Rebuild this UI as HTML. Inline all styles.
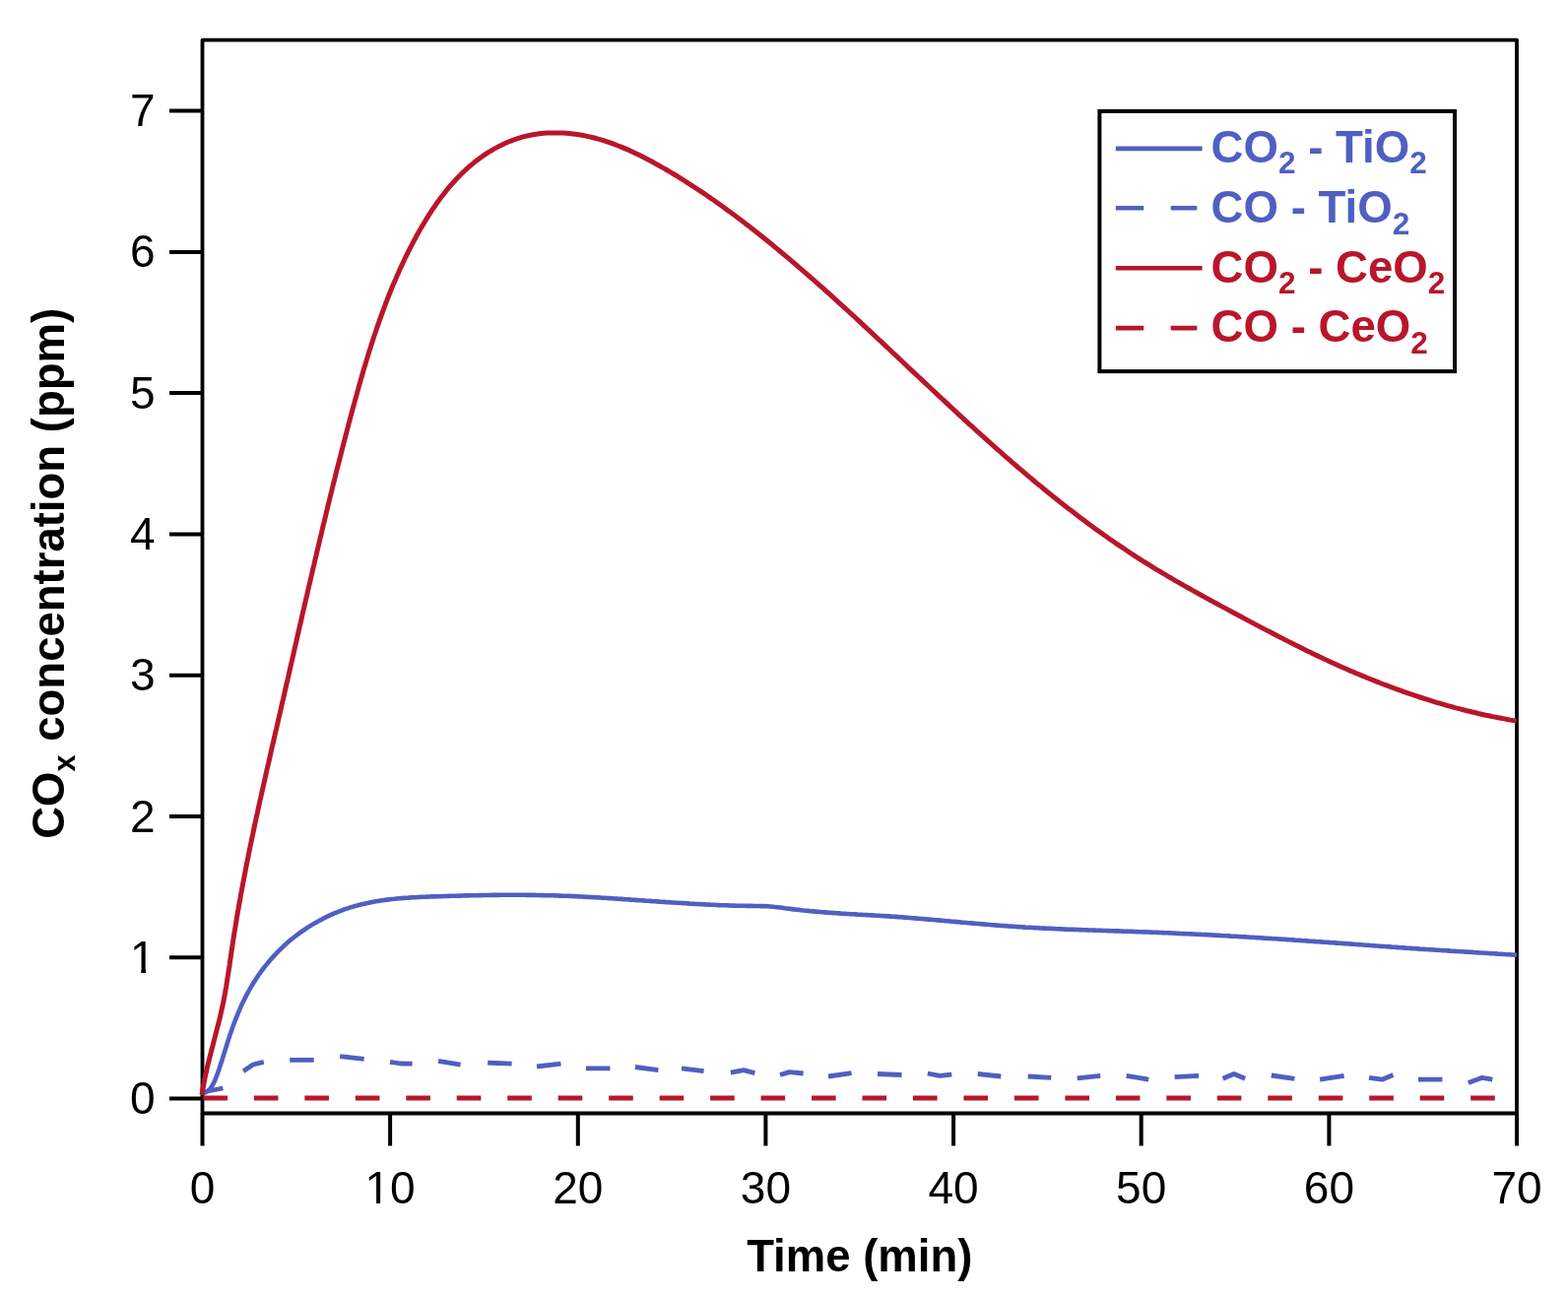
<!DOCTYPE html>
<html><head><meta charset="utf-8"><title>COx concentration</title>
<style>html,body{margin:0;padding:0;background:#fff;} svg{display:block;}</style></head>
<body><svg width="1592" height="1316" viewBox="0 0 1592 1316">
<rect width="1592" height="1316" fill="#fff"/>
<rect x="205.5" y="40.7" width="1334.5" height="1089.8" fill="none" stroke="#000" stroke-width="3.8" stroke-linejoin="round"/>
<path d="M172,1115.5 H205.5 M205.5,1130.5 V1163.5 M172,972.2 H205.5 M396.1,1130.5 V1163.5 M172,829.0 H205.5 M586.8,1130.5 V1163.5 M172,685.7 H205.5 M777.4,1130.5 V1163.5 M172,542.4 H205.5 M968.1,1130.5 V1163.5 M172,399.1 H205.5 M1158.7,1130.5 V1163.5 M172,255.9 H205.5 M1349.4,1130.5 V1163.5 M172,112.6 H205.5 M1540.0,1130.5 V1163.5" stroke="#000" stroke-width="4" fill="none"/>
<g font-family="&quot;Liberation Sans&quot;, Arial, sans-serif" font-size="46" fill="#000"><text x="157.5" y="1131.0" text-anchor="end">0</text><text x="157.5" y="987.7" text-anchor="end">1</text><text x="157.5" y="844.5" text-anchor="end">2</text><text x="157.5" y="701.2" text-anchor="end">3</text><text x="157.5" y="557.9" text-anchor="end">4</text><text x="157.5" y="414.6" text-anchor="end">5</text><text x="157.5" y="271.4" text-anchor="end">6</text><text x="157.5" y="128.1" text-anchor="end">7</text><text x="205.5" y="1222" text-anchor="middle">0</text><text x="396.1" y="1222" text-anchor="middle">10</text><text x="586.8" y="1222" text-anchor="middle">20</text><text x="777.4" y="1222" text-anchor="middle">30</text><text x="968.1" y="1222" text-anchor="middle">40</text><text x="1158.7" y="1222" text-anchor="middle">50</text><text x="1349.4" y="1222" text-anchor="middle">60</text><text x="1540.0" y="1222" text-anchor="middle">70</text></g>
<path d="M134,983.6 h9.3 v4.8 h-9.3 Z M148.1,983.6 h8.4 v4.8 h-8.4 Z M372.8,1217.6 h9.3 v4.8 h-9.3 Z M386.1,1217.6 h9 v4.8 h-9 Z" fill="#fff"/>
<text x="872.75" y="1291.2" text-anchor="middle" font-family="&quot;Liberation Sans&quot;, Arial, sans-serif" font-weight="bold" font-size="45.5">Time (min)</text>
<text transform="translate(65,851.8) rotate(-90)" x="0" y="0" font-family="&quot;Liberation Sans&quot;, Arial, sans-serif" font-weight="bold" font-size="45.5">CO<tspan font-size="30.5" dy="11">x</tspan><tspan dy="-11" dx="1.2"> concentration (ppm)</tspan></text>
<path d="M207.2,1110.0 L209.3,1108.9 L211.2,1107.6 L212.8,1106.1 L214.2,1104.4 L215.4,1102.5 L216.6,1100.6 L217.6,1098.5 L218.5,1096.3 L219.3,1094.1 L220.2,1091.9 L221.0,1089.7 L221.8,1087.4 L222.6,1085.2 L223.3,1082.9 L224.1,1080.6 L224.8,1078.3 L225.6,1076.0 L226.3,1073.7 L227.0,1071.4 L227.7,1069.1 L228.4,1066.8 L229.2,1064.5 L229.9,1062.1 L230.6,1059.8 L231.3,1057.5 L232.1,1055.2 L232.8,1052.9 L233.6,1050.6 L234.4,1048.3 L235.2,1046.0 L236.0,1043.7 L236.8,1041.4 L237.7,1039.2 L238.5,1036.9 L239.4,1034.7 L240.3,1032.4 L241.2,1030.2 L242.1,1027.9 L243.1,1025.7 L244.0,1023.5 L245.0,1021.3 L246.0,1019.1 L247.1,1016.9 L248.1,1014.8 L249.2,1012.6 L250.3,1010.5 L251.4,1008.4 L252.6,1006.3 L253.7,1004.2 L254.9,1002.1 L256.2,1000.1 L257.4,998.0 L258.7,996.0 L260.0,994.0 L261.3,992.0 L262.6,990.0 L264.0,988.1 L265.4,986.1 L266.8,984.2 L268.3,982.3 L269.8,980.4 L271.3,978.6 L272.8,976.7 L274.3,974.9 L275.9,973.1 L277.5,971.4 L279.1,969.6 L280.8,967.9 L282.4,966.1 L284.1,964.5 L285.8,962.8 L287.6,961.1 L289.3,959.5 L291.1,957.9 L292.9,956.3 L294.7,954.8 L296.6,953.3 L298.5,951.8 L300.4,950.3 L302.3,948.8 L304.2,947.4 L306.2,946.0 L308.2,944.6 L310.2,943.3 L312.2,941.9 L314.3,940.6 L316.3,939.4 L318.4,938.1 L320.5,936.9 L322.6,935.7 L324.7,934.6 L326.9,933.4 L329.0,932.3 L331.2,931.2 L333.4,930.2 L335.6,929.2 L337.8,928.2 L340.0,927.2 L342.3,926.3 L344.5,925.4 L346.8,924.6 L349.0,923.7 L351.3,922.9 L353.6,922.2 L355.9,921.4 L358.2,920.7 L360.5,920.1 L362.8,919.4 L365.1,918.8 L367.4,918.2 L369.7,917.7 L372.1,917.2 L374.4,916.7 L376.7,916.2 L379.1,915.8 L381.4,915.3 L383.8,914.9 L386.2,914.6 L388.5,914.2 L390.9,913.9 L393.3,913.6 L395.6,913.3 L398.0,913.0 L400.4,912.8 L402.8,912.5 L405.2,912.3 L407.6,912.1 L410.0,911.9 L412.4,911.7 L414.8,911.6 L417.2,911.4 L419.6,911.3 L422.0,911.2 L424.4,911.0 L426.8,910.9 L429.2,910.8 L431.6,910.7 L434.0,910.6 L436.4,910.5 L438.8,910.4 L441.2,910.4 L443.6,910.3 L446.1,910.2 L448.5,910.1 L450.9,910.0 L453.3,910.0 L455.7,909.9 L458.1,909.8 L460.5,909.8 L462.9,909.7 L465.3,909.6 L467.7,909.6 L470.1,909.5 L472.5,909.4 L475.0,909.4 L477.4,909.3 L479.8,909.3 L482.2,909.2 L484.6,909.2 L487.0,909.1 L489.4,909.1 L491.8,909.0 L494.2,909.0 L496.6,909.0 L499.0,908.9 L501.4,908.9 L503.8,908.9 L506.2,908.9 L508.6,908.8 L511.0,908.8 L513.4,908.8 L515.8,908.8 L518.2,908.8 L520.6,908.8 L523.0,908.8 L525.4,908.8 L527.9,908.8 L530.3,908.8 L532.7,908.8 L535.1,908.9 L537.5,908.9 L539.9,908.9 L542.3,908.9 L544.7,909.0 L547.1,909.0 L549.5,909.1 L551.9,909.1 L554.3,909.2 L556.7,909.2 L559.1,909.3 L561.5,909.3 L563.9,909.4 L566.3,909.5 L568.7,909.6 L571.1,909.7 L573.5,909.7 L575.9,909.8 L578.3,909.9 L580.7,910.0 L583.1,910.1 L585.5,910.3 L587.9,910.4 L590.3,910.5 L592.7,910.6 L595.1,910.7 L597.5,910.9 L599.9,911.0 L602.3,911.1 L604.7,911.3 L607.1,911.4 L609.5,911.5 L611.9,911.7 L614.3,911.8 L616.7,912.0 L619.1,912.1 L621.5,912.3 L623.9,912.5 L626.3,912.6 L628.7,912.8 L631.1,912.9 L633.5,913.1 L635.9,913.2 L638.3,913.4 L640.7,913.6 L643.1,913.7 L645.5,913.9 L647.9,914.1 L650.3,914.2 L652.7,914.4 L655.1,914.6 L657.5,914.7 L659.9,914.9 L662.3,915.1 L664.7,915.2 L667.1,915.4 L669.5,915.6 L671.9,915.7 L674.3,915.9 L676.7,916.1 L679.1,916.2 L681.5,916.4 L683.9,916.5 L686.3,916.7 L688.7,916.8 L691.1,917.0 L693.5,917.1 L695.9,917.3 L698.3,917.4 L700.7,917.6 L703.1,917.7 L705.5,917.9 L707.9,918.0 L710.3,918.1 L712.7,918.3 L715.1,918.4 L717.5,918.5 L719.9,918.6 L722.3,918.7 L724.7,918.8 L727.1,919.0 L729.5,919.1 L731.9,919.2 L734.3,919.2 L736.7,919.3 L739.1,919.4 L741.5,919.5 L743.9,919.6 L746.3,919.6 L748.7,919.7 L751.1,919.8 L753.5,919.8 L755.9,919.8 L758.3,919.9 L760.7,919.9 L763.1,919.9 L765.5,920.0 L767.9,920.0 L770.3,920.0 L772.7,920.1 L775.2,920.1 L777.6,920.2 L779.9,920.3 L782.3,920.5 L784.7,920.7 L787.1,921.0 L789.5,921.2 L791.9,921.5 L794.3,921.8 L796.7,922.2 L799.1,922.5 L801.4,922.8 L803.8,923.1 L806.2,923.4 L808.6,923.7 L811.0,923.9 L813.4,924.2 L815.8,924.5 L818.2,924.7 L820.6,924.9 L822.9,925.2 L825.3,925.4 L827.7,925.6 L830.1,925.8 L832.5,926.0 L834.9,926.2 L837.3,926.4 L839.7,926.6 L842.1,926.8 L844.5,926.9 L846.9,927.1 L849.3,927.3 L851.7,927.4 L854.1,927.6 L856.5,927.7 L858.9,927.9 L861.3,928.0 L863.7,928.2 L866.1,928.3 L868.5,928.4 L870.9,928.6 L873.3,928.7 L875.7,928.9 L878.1,929.0 L880.5,929.1 L882.9,929.3 L885.3,929.4 L887.7,929.5 L890.1,929.7 L892.5,929.8 L894.9,930.0 L897.3,930.1 L899.7,930.3 L902.1,930.4 L904.5,930.6 L906.9,930.8 L909.3,930.9 L911.7,931.1 L914.1,931.3 L916.5,931.4 L918.9,931.6 L921.3,931.8 L923.7,932.0 L926.1,932.2 L928.5,932.4 L930.9,932.6 L933.3,932.8 L935.7,933.0 L938.1,933.2 L940.4,933.4 L942.8,933.6 L945.2,933.8 L947.6,934.0 L950.0,934.2 L952.4,934.4 L954.8,934.6 L957.2,934.8 L959.6,935.1 L962.0,935.3 L964.4,935.5 L966.8,935.7 L969.2,935.9 L971.6,936.1 L974.0,936.3 L976.4,936.6 L978.8,936.8 L981.2,937.0 L983.6,937.2 L986.0,937.4 L988.4,937.6 L990.8,937.8 L993.2,938.0 L995.6,938.2 L998.0,938.4 L1000.4,938.6 L1002.8,938.8 L1005.1,939.0 L1007.5,939.2 L1009.9,939.4 L1012.3,939.6 L1014.7,939.8 L1017.1,940.0 L1019.5,940.1 L1021.9,940.3 L1024.3,940.5 L1026.7,940.6 L1029.1,940.8 L1031.5,941.0 L1033.9,941.1 L1036.3,941.3 L1038.7,941.4 L1041.1,941.6 L1043.5,941.7 L1045.9,941.8 L1048.3,942.0 L1050.7,942.1 L1053.1,942.2 L1055.5,942.4 L1057.9,942.5 L1060.3,942.6 L1062.7,942.7 L1065.1,942.8 L1067.5,942.9 L1069.9,943.0 L1072.3,943.2 L1074.7,943.3 L1077.1,943.4 L1079.5,943.5 L1081.9,943.6 L1084.3,943.7 L1086.7,943.7 L1089.1,943.8 L1091.5,943.9 L1093.9,944.0 L1096.3,944.1 L1098.7,944.2 L1101.2,944.3 L1103.6,944.4 L1106.0,944.5 L1108.4,944.5 L1110.8,944.6 L1113.2,944.7 L1115.6,944.8 L1118.0,944.9 L1120.4,945.0 L1122.8,945.0 L1125.2,945.1 L1127.6,945.2 L1130.0,945.3 L1132.4,945.4 L1134.8,945.4 L1137.2,945.5 L1139.6,945.6 L1142.0,945.7 L1144.4,945.8 L1146.8,945.8 L1149.2,945.9 L1151.6,946.0 L1154.0,946.1 L1156.4,946.2 L1158.8,946.3 L1161.2,946.4 L1163.6,946.4 L1166.0,946.5 L1168.4,946.6 L1170.8,946.7 L1173.2,946.8 L1175.6,946.9 L1178.0,947.0 L1180.4,947.1 L1182.8,947.2 L1185.2,947.3 L1187.6,947.4 L1190.0,947.5 L1192.4,947.6 L1194.8,947.7 L1197.2,947.9 L1199.6,948.0 L1202.0,948.1 L1204.4,948.2 L1206.8,948.3 L1209.2,948.4 L1211.6,948.5 L1214.0,948.7 L1216.4,948.8 L1218.8,948.9 L1221.2,949.0 L1223.6,949.1 L1226.0,949.3 L1228.4,949.4 L1230.8,949.5 L1233.2,949.6 L1235.6,949.8 L1238.0,949.9 L1240.4,950.0 L1242.8,950.2 L1245.2,950.3 L1247.6,950.4 L1250.0,950.6 L1252.4,950.7 L1254.8,950.8 L1257.2,951.0 L1259.6,951.1 L1261.9,951.3 L1264.3,951.4 L1266.7,951.5 L1269.1,951.7 L1271.5,951.8 L1273.9,952.0 L1276.3,952.1 L1278.7,952.3 L1281.1,952.4 L1283.5,952.6 L1285.9,952.7 L1288.3,952.9 L1290.7,953.0 L1293.1,953.2 L1295.5,953.3 L1297.9,953.5 L1300.3,953.6 L1302.7,953.8 L1305.1,953.9 L1307.5,954.1 L1309.9,954.3 L1312.3,954.4 L1314.7,954.6 L1317.1,954.7 L1319.5,954.9 L1321.9,955.1 L1324.3,955.2 L1326.7,955.4 L1329.1,955.6 L1331.4,955.7 L1333.8,955.9 L1336.2,956.1 L1338.6,956.2 L1341.0,956.4 L1343.4,956.6 L1345.8,956.7 L1348.2,956.9 L1350.6,957.1 L1353.0,957.2 L1355.4,957.4 L1357.8,957.6 L1360.2,957.8 L1362.6,957.9 L1365.0,958.1 L1367.4,958.3 L1369.8,958.4 L1372.2,958.6 L1374.6,958.8 L1377.0,959.0 L1379.4,959.1 L1381.8,959.3 L1384.2,959.5 L1386.6,959.7 L1389.0,959.8 L1391.3,960.0 L1393.7,960.2 L1396.1,960.4 L1398.5,960.5 L1400.9,960.7 L1403.3,960.9 L1405.7,961.0 L1408.1,961.2 L1410.5,961.4 L1412.9,961.6 L1415.3,961.7 L1417.7,961.9 L1420.1,962.1 L1422.5,962.2 L1424.9,962.4 L1427.3,962.6 L1429.7,962.7 L1432.1,962.9 L1434.5,963.1 L1436.9,963.2 L1439.3,963.4 L1441.7,963.6 L1444.1,963.7 L1446.5,963.9 L1448.9,964.0 L1451.3,964.2 L1453.6,964.3 L1456.0,964.5 L1458.4,964.7 L1460.8,964.8 L1463.2,965.0 L1465.6,965.1 L1468.0,965.3 L1470.4,965.4 L1472.8,965.6 L1475.2,965.7 L1477.6,965.9 L1480.0,966.0 L1482.4,966.2 L1484.8,966.3 L1487.2,966.5 L1489.6,966.6 L1492.0,966.8 L1494.4,966.9 L1496.8,967.1 L1499.2,967.2 L1501.6,967.4 L1504.0,967.5 L1506.4,967.7 L1508.8,967.8 L1511.2,968.0 L1513.6,968.1 L1516.0,968.3 L1518.4,968.4 L1520.8,968.6 L1523.2,968.7 L1525.6,968.9 L1528.0,969.0 L1530.4,969.2 L1532.8,969.3 L1535.2,969.5 L1537.6,969.6 L1540.0,969.8" stroke="#4F5FC2" stroke-width="4.6" fill="none" stroke-linejoin="round"/>
<path d="M206.0,1109.0 L226.4,1105.0 M247.1,1087.7 L257.0,1081.0 L267.8,1078.3 M294.2,1076.4 L318.7,1076.4 M345.1,1072.6 L369.6,1075.4 M396.0,1078.3 L407.0,1080.0 L418.6,1080.1 M445.0,1077.3 L467.6,1081.1 M495.1,1079.2 L519.6,1080.1 M545.0,1083.0 L569.5,1080.1 M594.9,1084.9 L619.4,1084.9 M644.9,1083.5 L668.4,1086.7 M692.0,1084.9 L714.6,1087.7 M741.9,1089.2 L755.0,1086.7 L766.4,1089.6 M792.0,1091.5 L801.5,1088.6 L815.6,1090.0 M841.0,1093.0 L864.6,1089.6 M891.0,1090.5 L915.5,1091.5 M941.8,1090.0 L954.0,1092.4 L966.3,1091.1 M992.7,1090.5 L1016.3,1093.0 M1043.7,1093.0 L1067.3,1094.3 M1093.7,1094.8 L1117.3,1092.4 M1143.6,1092.4 L1166.2,1096.2 M1192.6,1093.7 L1217.1,1092.4 M1241.6,1095.2 L1252.9,1090.5 L1264.2,1095.2 M1290.8,1092.0 L1314.4,1095.4 M1340.1,1096.2 L1364.6,1092.4 M1390.0,1094.3 L1403.2,1096.2 L1414.5,1091.5 M1440.0,1096.2 L1464.4,1096.2 M1490.8,1099.4 L1505.0,1094.3 L1515.3,1096.2" stroke="#4F5FC2" stroke-width="4.8" fill="none" stroke-linejoin="round"/>
<path d="M205.0,1111.9 L205.5,1108.7 L206.0,1105.5 L206.6,1102.4 L207.2,1099.2 L207.8,1096.1 L208.4,1092.9 L209.1,1089.8 L209.8,1086.7 L210.5,1083.5 L211.2,1080.4 L212.0,1077.3 L212.8,1074.2 L213.6,1071.0 L214.4,1067.9 L215.2,1064.8 L216.0,1061.7 L216.8,1058.6 L217.6,1055.5 L218.4,1052.4 L219.2,1049.3 L220.0,1046.2 L220.8,1043.0 L221.6,1039.9 L222.4,1036.8 L223.2,1033.7 L223.9,1030.5 L224.6,1027.4 L225.3,1024.3 L226.0,1021.1 L226.7,1018.0 L227.3,1014.8 L227.9,1011.6 L228.5,1008.5 L229.0,1005.3 L229.6,1002.1 L230.1,998.9 L230.6,995.7 L231.1,992.6 L231.6,989.4 L232.1,986.2 L232.6,983.0 L233.1,979.8 L233.5,976.6 L234.0,973.4 L234.5,970.2 L234.9,967.0 L235.4,963.8 L235.9,960.6 L236.4,957.4 L236.8,954.3 L237.3,951.1 L237.8,947.9 L238.4,944.7 L238.9,941.5 L239.4,938.3 L239.9,935.2 L240.4,932.0 L241.0,928.8 L241.5,925.6 L242.1,922.5 L242.6,919.3 L243.2,916.1 L243.8,913.0 L244.3,909.8 L244.9,906.6 L245.5,903.5 L246.1,900.3 L246.7,897.1 L247.3,894.0 L247.9,890.8 L248.5,887.7 L249.1,884.5 L249.7,881.3 L250.3,878.2 L250.9,875.0 L251.6,871.9 L252.2,868.7 L252.8,865.6 L253.5,862.4 L254.1,859.3 L254.8,856.1 L255.4,853.0 L256.1,849.8 L256.8,846.7 L257.4,843.6 L258.1,840.4 L258.7,837.3 L259.4,834.1 L260.1,831.0 L260.8,827.8 L261.5,824.7 L262.1,821.6 L262.8,818.4 L263.5,815.3 L264.2,812.2 L264.9,809.0 L265.6,805.9 L266.3,802.7 L267.0,799.6 L267.7,796.5 L268.4,793.3 L269.1,790.2 L269.8,787.1 L270.5,783.9 L271.2,780.8 L271.9,777.7 L272.7,774.5 L273.4,771.4 L274.1,768.2 L274.8,765.1 L275.5,762.0 L276.2,758.8 L277.0,755.7 L277.7,752.6 L278.4,749.4 L279.1,746.3 L279.8,743.2 L280.6,740.0 L281.3,736.9 L282.0,733.8 L282.7,730.6 L283.4,727.5 L284.2,724.3 L284.9,721.2 L285.6,718.1 L286.3,714.9 L287.0,711.8 L287.8,708.6 L288.5,705.5 L289.2,702.4 L289.9,699.2 L290.6,696.1 L291.3,692.9 L292.1,689.8 L292.8,686.7 L293.5,683.5 L294.2,680.4 L294.9,677.2 L295.6,674.1 L296.4,670.9 L297.1,667.8 L297.8,664.7 L298.5,661.5 L299.2,658.4 L299.9,655.2 L300.7,652.1 L301.4,648.9 L302.1,645.8 L302.8,642.6 L303.5,639.5 L304.2,636.4 L305.0,633.2 L305.7,630.1 L306.4,626.9 L307.1,623.8 L307.8,620.6 L308.6,617.5 L309.3,614.4 L310.0,611.2 L310.7,608.1 L311.5,604.9 L312.2,601.8 L312.9,598.6 L313.6,595.5 L314.4,592.4 L315.1,589.2 L315.8,586.1 L316.6,582.9 L317.3,579.8 L318.0,576.6 L318.8,573.5 L319.5,570.4 L320.2,567.2 L321.0,564.1 L321.7,560.9 L322.4,557.8 L323.2,554.7 L323.9,551.5 L324.7,548.4 L325.4,545.3 L326.2,542.1 L326.9,539.0 L327.6,535.9 L328.4,532.7 L329.2,529.6 L329.9,526.5 L330.7,523.3 L331.4,520.2 L332.2,517.1 L332.9,513.9 L333.7,510.8 L334.5,507.7 L335.2,504.5 L336.0,501.4 L336.8,498.3 L337.5,495.2 L338.3,492.0 L339.1,488.9 L339.9,485.8 L340.6,482.7 L341.4,479.5 L342.2,476.4 L343.0,473.3 L343.8,470.2 L344.6,467.1 L345.4,464.0 L346.2,460.8 L347.0,457.7 L347.8,454.6 L348.6,451.5 L349.4,448.4 L350.2,445.3 L351.0,442.2 L351.8,439.1 L352.6,436.0 L353.4,432.8 L354.2,429.7 L355.1,426.6 L355.9,423.5 L356.7,420.4 L357.6,417.3 L358.4,414.2 L359.2,411.1 L360.1,408.0 L360.9,405.0 L361.8,401.9 L362.6,398.8 L363.5,395.7 L364.3,392.6 L365.2,389.5 L366.1,386.4 L367.0,383.3 L367.9,380.3 L368.7,377.2 L369.7,374.1 L370.6,371.1 L371.5,368.0 L372.4,364.9 L373.3,361.9 L374.3,358.8 L375.2,355.7 L376.2,352.7 L377.2,349.6 L378.2,346.6 L379.1,343.5 L380.1,340.5 L381.2,337.5 L382.2,334.4 L383.2,331.4 L384.3,328.4 L385.3,325.3 L386.4,322.3 L387.5,319.3 L388.6,316.3 L389.7,313.3 L390.8,310.3 L392.0,307.3 L393.1,304.3 L394.3,301.3 L395.5,298.3 L396.7,295.3 L397.9,292.3 L399.1,289.4 L400.4,286.4 L401.7,283.4 L402.9,280.5 L404.3,277.5 L405.6,274.6 L406.9,271.6 L408.3,268.7 L409.6,265.8 L411.0,262.8 L412.4,259.9 L413.9,257.0 L415.3,254.1 L416.8,251.2 L418.3,248.3 L419.8,245.4 L421.4,242.5 L422.9,239.6 L424.5,236.8 L426.1,233.9 L427.7,231.1 L429.4,228.3 L431.1,225.4 L432.8,222.6 L434.5,219.9 L436.2,217.1 L438.0,214.4 L439.8,211.7 L441.7,209.0 L443.5,206.3 L445.4,203.7 L447.3,201.1 L449.3,198.5 L451.3,195.9 L453.3,193.4 L455.3,190.9 L457.4,188.5 L459.5,186.1 L461.7,183.7 L463.8,181.3 L466.1,179.0 L468.3,176.8 L470.6,174.5 L472.9,172.4 L475.2,170.2 L477.6,168.1 L480.1,166.1 L482.5,164.1 L485.0,162.2 L487.6,160.3 L490.2,158.4 L492.8,156.7 L495.4,154.9 L498.1,153.3 L500.9,151.6 L503.7,150.1 L506.5,148.6 L509.4,147.2 L512.3,145.8 L515.2,144.5 L518.2,143.3 L521.2,142.2 L524.2,141.1 L527.2,140.1 L530.3,139.2 L533.4,138.4 L536.5,137.7 L539.7,137.0 L542.8,136.5 L546.0,136.0 L549.2,135.6 L552.4,135.3 L555.6,135.1 L558.8,134.9 L562.0,134.9 L565.3,134.9 L568.5,134.9 L571.7,135.1 L574.9,135.3 L578.1,135.6 L581.3,135.9 L584.5,136.3 L587.6,136.8 L590.8,137.3 L593.9,137.9 L597.0,138.6 L600.2,139.3 L603.3,140.0 L606.3,140.9 L609.4,141.7 L612.5,142.6 L615.5,143.6 L618.6,144.6 L621.6,145.7 L624.6,146.8 L627.6,148.0 L630.6,149.1 L633.6,150.4 L636.5,151.6 L639.5,152.9 L642.4,154.3 L645.4,155.7 L648.3,157.1 L651.2,158.5 L654.1,160.0 L657.0,161.5 L659.8,163.0 L662.7,164.5 L665.5,166.1 L668.4,167.7 L671.2,169.3 L674.0,170.9 L676.8,172.5 L679.6,174.2 L682.4,175.8 L685.2,177.5 L688.0,179.2 L690.7,180.9 L693.5,182.6 L696.2,184.3 L698.9,186.1 L701.6,187.8 L704.3,189.6 L707.0,191.3 L709.7,193.1 L712.4,194.9 L715.1,196.7 L717.7,198.5 L720.4,200.4 L723.0,202.2 L725.7,204.0 L728.3,205.9 L730.9,207.7 L733.5,209.6 L736.1,211.5 L738.7,213.4 L741.3,215.3 L743.9,217.2 L746.5,219.1 L749.0,221.1 L751.6,223.0 L754.2,224.9 L756.7,226.9 L759.2,228.8 L761.8,230.8 L764.3,232.8 L766.8,234.8 L769.4,236.8 L771.9,238.8 L774.4,240.8 L776.9,242.8 L779.4,244.8 L781.9,246.8 L784.4,248.8 L786.8,250.9 L789.3,252.9 L791.8,255.0 L794.2,257.0 L796.7,259.1 L799.2,261.2 L801.6,263.2 L804.1,265.3 L806.5,267.4 L809.0,269.5 L811.4,271.6 L813.8,273.7 L816.3,275.8 L818.7,277.9 L821.1,280.0 L823.5,282.1 L825.9,284.2 L828.4,286.3 L830.8,288.5 L833.2,290.6 L835.6,292.7 L838.0,294.9 L840.4,297.0 L842.8,299.2 L845.2,301.3 L847.5,303.5 L849.9,305.6 L852.3,307.8 L854.7,310.0 L857.1,312.1 L859.4,314.3 L861.8,316.5 L864.2,318.7 L866.6,320.8 L868.9,323.0 L871.3,325.2 L873.7,327.4 L876.0,329.6 L878.4,331.8 L880.7,334.0 L883.1,336.2 L885.4,338.4 L887.8,340.6 L890.2,342.8 L892.5,345.0 L894.9,347.2 L897.2,349.4 L899.6,351.6 L901.9,353.8 L904.3,356.0 L906.6,358.2 L909.0,360.4 L911.3,362.6 L913.6,364.8 L916.0,367.0 L918.3,369.2 L920.7,371.5 L923.0,373.7 L925.4,375.9 L927.7,378.1 L930.1,380.3 L932.4,382.5 L934.8,384.7 L937.1,386.9 L939.5,389.1 L941.8,391.3 L944.2,393.5 L946.5,395.7 L948.9,397.9 L951.2,400.1 L953.6,402.3 L955.9,404.5 L958.3,406.7 L960.6,408.9 L963.0,411.1 L965.3,413.3 L967.7,415.5 L970.1,417.7 L972.4,419.9 L974.8,422.1 L977.2,424.2 L979.5,426.4 L981.9,428.6 L984.3,430.8 L986.7,432.9 L989.1,435.1 L991.4,437.3 L993.8,439.4 L996.2,441.6 L998.6,443.7 L1001.0,445.9 L1003.4,448.0 L1005.8,450.2 L1008.2,452.3 L1010.6,454.5 L1013.0,456.6 L1015.4,458.7 L1017.8,460.8 L1020.2,463.0 L1022.7,465.1 L1025.1,467.2 L1027.5,469.3 L1029.9,471.4 L1032.4,473.5 L1034.8,475.6 L1037.3,477.7 L1039.7,479.7 L1042.2,481.8 L1044.6,483.9 L1047.1,485.9 L1049.5,488.0 L1052.0,490.1 L1054.5,492.1 L1057.0,494.1 L1059.4,496.2 L1061.9,498.2 L1064.4,500.2 L1066.9,502.2 L1069.4,504.3 L1071.9,506.3 L1074.4,508.3 L1076.9,510.2 L1079.4,512.2 L1082.0,514.2 L1084.5,516.2 L1087.0,518.1 L1089.6,520.1 L1092.1,522.0 L1094.7,524.0 L1097.2,525.9 L1099.8,527.8 L1102.4,529.8 L1104.9,531.7 L1107.5,533.6 L1110.1,535.5 L1112.7,537.4 L1115.3,539.2 L1117.9,541.1 L1120.5,543.0 L1123.1,544.8 L1125.8,546.7 L1128.4,548.5 L1131.0,550.3 L1133.7,552.1 L1136.3,553.9 L1139.0,555.7 L1141.7,557.5 L1144.3,559.3 L1147.0,561.1 L1149.7,562.8 L1152.4,564.6 L1155.1,566.3 L1157.8,568.1 L1160.5,569.8 L1163.3,571.5 L1166.0,573.2 L1168.7,574.9 L1171.5,576.6 L1174.2,578.3 L1177.0,579.9 L1179.8,581.6 L1182.5,583.2 L1185.3,584.9 L1188.1,586.5 L1190.9,588.1 L1193.7,589.8 L1196.5,591.4 L1199.3,593.0 L1202.1,594.6 L1204.9,596.2 L1207.7,597.7 L1210.5,599.3 L1213.3,600.9 L1216.2,602.5 L1219.0,604.0 L1221.8,605.6 L1224.6,607.1 L1227.5,608.7 L1230.3,610.2 L1233.1,611.8 L1236.0,613.3 L1238.8,614.9 L1241.7,616.4 L1244.5,617.9 L1247.3,619.4 L1250.2,621.0 L1253.0,622.5 L1255.9,624.0 L1258.7,625.5 L1261.5,627.0 L1264.4,628.6 L1267.2,630.1 L1270.1,631.6 L1272.9,633.1 L1275.7,634.6 L1278.6,636.1 L1281.4,637.6 L1284.3,639.1 L1287.1,640.6 L1290.0,642.0 L1292.8,643.5 L1295.7,645.0 L1298.5,646.5 L1301.4,647.9 L1304.2,649.4 L1307.1,650.9 L1309.9,652.3 L1312.8,653.7 L1315.7,655.2 L1318.5,656.6 L1321.4,658.0 L1324.3,659.5 L1327.2,660.9 L1330.1,662.3 L1332.9,663.7 L1335.8,665.1 L1338.7,666.4 L1341.6,667.8 L1344.5,669.2 L1347.4,670.5 L1350.4,671.9 L1353.3,673.2 L1356.2,674.5 L1359.1,675.9 L1362.1,677.2 L1365.0,678.5 L1368.0,679.8 L1370.9,681.1 L1373.9,682.3 L1376.8,683.6 L1379.8,684.8 L1382.8,686.1 L1385.8,687.3 L1388.7,688.5 L1391.7,689.7 L1394.7,690.9 L1397.7,692.1 L1400.7,693.3 L1403.7,694.5 L1406.8,695.6 L1409.8,696.7 L1412.8,697.9 L1415.8,699.0 L1418.9,700.1 L1421.9,701.2 L1424.9,702.3 L1428.0,703.3 L1431.0,704.4 L1434.1,705.4 L1437.1,706.4 L1440.2,707.5 L1443.3,708.5 L1446.3,709.5 L1449.4,710.4 L1452.5,711.4 L1455.5,712.3 L1458.6,713.3 L1461.7,714.2 L1464.8,715.1 L1467.9,716.0 L1471.0,716.8 L1474.1,717.7 L1477.2,718.6 L1480.3,719.4 L1483.4,720.2 L1486.5,721.0 L1489.6,721.8 L1492.7,722.5 L1495.9,723.3 L1499.0,724.0 L1502.1,724.8 L1505.2,725.5 L1508.4,726.2 L1511.5,726.8 L1514.6,727.5 L1517.8,728.1 L1520.9,728.7 L1524.0,729.3 L1527.2,729.9 L1530.3,730.5 L1533.5,731.1 L1536.6,731.6 L1539.7,732.1" stroke="#B8162B" stroke-width="5" fill="none" stroke-linejoin="round"/>
<path d="M206.4,1115 H1540" stroke="#B8162B" stroke-width="5" fill="none" stroke-dasharray="24.6 26.87"/>
<rect x="1116.4" y="112.9" width="360.6" height="264.2" fill="#fff" stroke="#000" stroke-width="4"/>
<path d="M1132.8,150.9 H1220.6" stroke="#4F5FC2" stroke-width="4.6"/>
<text x="1229.6" y="164.9" fill="#4F5FC2" font-family="&quot;Liberation Sans&quot;, Arial, sans-serif" font-weight="bold" font-size="45.6">CO<tspan font-size="31.5" dy="11.4">2</tspan><tspan dy="-11.4"> - TiO</tspan><tspan font-size="31.5" dy="11.4">2</tspan></text>
<path d="M1132.8,211.2 H1161.2 M1188.7,211.2 H1215.3" stroke="#4F5FC2" stroke-width="4.6"/>
<text x="1229.6" y="226.2" fill="#4F5FC2" font-family="&quot;Liberation Sans&quot;, Arial, sans-serif" font-weight="bold" font-size="45.6">CO - TiO<tspan font-size="31.5" dy="11.4">2</tspan></text>
<path d="M1132.8,272.2 H1220.6" stroke="#B8162B" stroke-width="4.6"/>
<text x="1229.6" y="286.5" fill="#B8162B" font-family="&quot;Liberation Sans&quot;, Arial, sans-serif" font-weight="bold" font-size="45.6">CO<tspan font-size="31.5" dy="11.4">2</tspan><tspan dy="-11.4"> - CeO</tspan><tspan font-size="31.5" dy="11.4">2</tspan></text>
<path d="M1132.8,333.1 H1161.2 M1188.7,333.1 H1215.3" stroke="#B8162B" stroke-width="4.6"/>
<text x="1229.6" y="347.4" fill="#B8162B" font-family="&quot;Liberation Sans&quot;, Arial, sans-serif" font-weight="bold" font-size="45.6">CO - CeO<tspan font-size="31.5" dy="11.4">2</tspan></text>
</svg></body></html>
